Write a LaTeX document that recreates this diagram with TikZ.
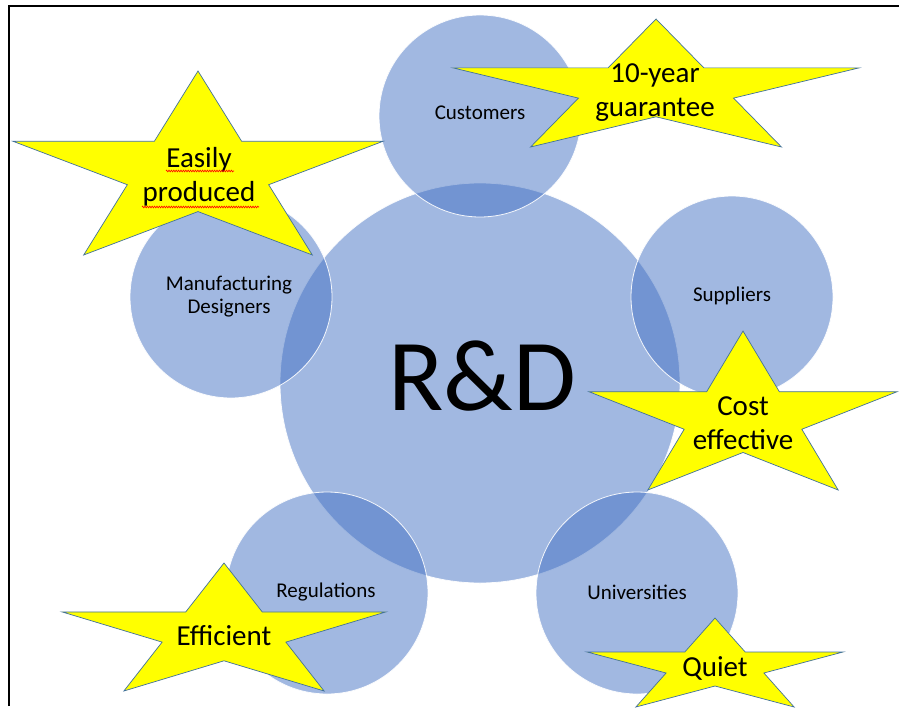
\documentclass[tikz,border=0pt]{standalone}
\usepackage{fontspec}
\setmainfont{Carlito}
\usetikzlibrary{decorations.pathmorphing}
\definecolor{cblue}{RGB}{68,114,196}
\definecolor{staredge}{RGB}{65,113,156}
\definecolor{staryellow}{RGB}{255,255,0}
\tikzset{
  bubble/.style={circle, inner sep=0pt, fill=cblue, fill opacity=0.5, draw=white, draw opacity=0.9, line width=0.8pt},
  starshape/.style={fill=staryellow, draw=staredge, line width=0.7pt, line join=miter},
  lab/.style={font=\fontsize{21}{23}\selectfont, align=center, inner sep=0pt, text=black},
  starlab/.style={font=\fontsize{29}{34}\selectfont, align=center, inner sep=0pt, text=black},
  biglab/.style={font=\fontsize{102}{120}\selectfont, inner sep=0pt, text=black},
  squiggle/.style={draw=red, line width=0.6pt, decorate, decoration={zigzag, amplitude=0.9pt, segment length=2.4pt}},
  frame/.style={draw=black, line width=2.5pt},
}
\newcommand\drawstar[4]{%
  \begin{scope}[shift={(#1,#2)}, xscale=#3, yscale=#4]
    \path[starshape] (0.5,0) -- (0.382,0.382) -- (0,0.382) -- (0.309,0.618) -- (0.191,1)
      -- (0.5,0.764) -- (0.809,1) -- (0.691,0.618) -- (1,0.382) -- (0.618,0.382) -- cycle;
  \end{scope}}
\begin{document}
\begin{tikzpicture}[x=1pt, y=-1pt]
\useasboundingbox (0,0) rectangle (899,717);
\fill[white] (0,0) rectangle (899,717);
% frame
\coordinate (fbl) at (9,706);
\coordinate (ftl) at (9,6);
\coordinate (ftr) at (899,6);
\draw[frame] (fbl) -- (ftl) -- (ftr);
% circles
\node[bubble, minimum size=400pt] (rd) at (480,383) {};
\node[bubble, minimum size=202pt] (cust) at (480,116) {};
\node[bubble, minimum size=202pt] (manu) at (231,297) {};
\node[bubble, minimum size=202pt] (supp) at (732,297) {};
\node[bubble, minimum size=202pt] (regu) at (327,593) {};
\node[bubble, minimum size=202pt] (univ) at (637,593) {};
% circle labels
\node[biglab] (rdlab) at (482,376) {R\&D};
\node[lab] (custlab) at (480,113) {Customers};
\node[lab] (manulab) at (229,297) {Manufacturing\\Designers};
\node[lab] (supplab) at (732,296) {Suppliers};
\node[lab] (regulab) at (326,592) {Regulations};
\node[lab] (univlab) at (637,592) {Universities};
% stars
\drawstar{13}{71}{370}{184}
\drawstar{453}{19}{406}{128}
\drawstar{589}{331}{308}{159}
\drawstar{62}{563}{324}{128}
\drawstar{587}{618}{256}{89}
% star labels
\node[starlab] (easy) at (199,177) {Easily\\produced};
\node[starlab] (guar) at (655,93) {10-year\\guarantee};
\node[starlab] (cost) at (743,423) {Cost\\effective};
\node[starlab] (effi) at (224,636) {Efficient};
\node[starlab] (quiet) at (715,668) {Quiet};
% spell-check squiggles
\coordinate (sq1a) at (166,171);
\coordinate (sq1b) at (234,171);
\coordinate (sq2a) at (142,207);
\coordinate (sq2b) at (259,207);
\draw[squiggle] (sq1a) -- (sq1b);
\draw[squiggle] (sq2a) -- (sq2b);
\end{tikzpicture}
\end{document}
